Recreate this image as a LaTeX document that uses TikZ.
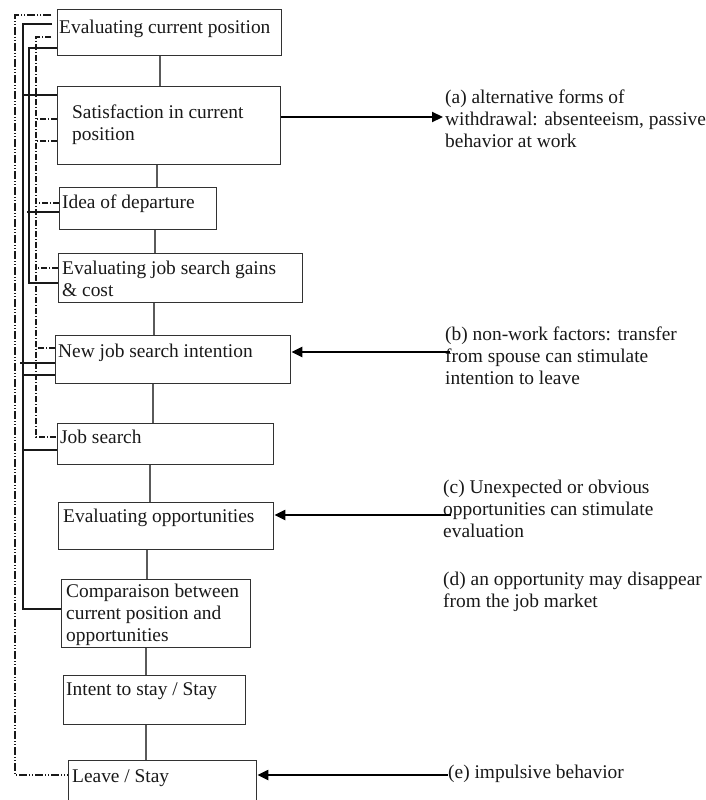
\documentclass[tikz,border=0pt]{standalone}
\usepackage{fontspec}
\setmainfont{Liberation Serif}
\usetikzlibrary{arrows.meta}

\definecolor{boxgray}{RGB}{50,50,50}
\definecolor{linkgray}{RGB}{90,90,90}
\definecolor{inkgray}{RGB}{25,25,25}

\begin{document}
\begin{tikzpicture}[x=1pt,y=-1pt,
  box/.style={draw=boxgray, line width=1.4pt, inner sep=0pt, anchor=north west},
  lbl/.style={inner sep=0pt, anchor=north west, align=left,
    font=\fontsize{19.4}{22}\selectfont, text=inkgray},
  link/.style={draw=linkgray, line width=1.4pt},
  feed/.style={draw=inkgray, line width=1.4pt},
  dashdot/.style={draw=inkgray, line width=1.5pt,
    dash pattern=on 6pt off 2pt on 1pt off 2pt},
  dashdotdot/.style={draw=inkgray, line width=1.6pt,
    dash pattern=on 8pt off 2pt on 1pt off 2pt on 1pt off 2pt},
  push/.style={draw=black, line width=2.2pt, -{Triangle[length=11pt,width=10pt]}}
]
\useasboundingbox (0,0) rectangle (706,800);
\clip (0,0) rectangle (706,800);
\fill[white] (0,0) rectangle (706,800);

% process steps
\node[box, minimum width=224pt, minimum height=46pt] (b1)  at (57,9)   {};
\node[box, minimum width=223pt, minimum height=78pt] (b2)  at (57,86)  {};
\node[box, minimum width=157pt, minimum height=42pt] (b3)  at (59,187) {};
\node[box, minimum width=244pt, minimum height=49pt] (b4)  at (58,253) {};
\node[box, minimum width=235pt, minimum height=48pt] (b5)  at (55,335) {};
\node[box, minimum width=216pt, minimum height=41pt] (b6)  at (57,423) {};
\node[box, minimum width=215pt, minimum height=47pt] (b7)  at (58,502) {};
\node[box, minimum width=189pt, minimum height=68pt] (b8)  at (61,579) {};
\node[box, minimum width=182pt, minimum height=49pt] (b9)  at (63,675) {};
\node[box, minimum width=188pt, minimum height=60pt] (b10) at (68,760) {};

% step texts
\node[lbl] (t1)  at (59,18)  {\strut Evaluating current position};
\node[lbl] (t2)  at (72,103) {\strut Satisfaction in current\\position};
\node[lbl] (t3)  at (62,193) {\strut Idea of departure};
\node[lbl] (t4)  at (62,259) {\strut Evaluating job search gains\\\& cost};
\node[lbl] (t5)  at (58,342) {\strut New job search intention};
\node[lbl] (t6)  at (60,428) {\strut Job search};
\node[lbl] (t7)  at (63,507) {\strut Evaluating opportunities};
\node[lbl] (t8)  at (66,582) {\strut Comparaison between\\current position and\\opportunities};
\node[lbl] (t9)  at (66,680) {\strut Intent to stay / Stay};
\node[lbl] (t10) at (72,767) {\strut Leave / Stay};

% side notes
\node[lbl] (ta) at (445,88)  {\strut (a) alternative forms of\\withdrawal: absenteeism, passive\\behavior at work};
\node[lbl] (tb) at (445,325) {\strut (b) non-work factors: transfer\\from spouse can stimulate\\intention to leave};
\node[lbl] (tc) at (443,478) {\strut (c) Unexpected or obvious\\opportunities can stimulate\\evaluation};
\node[lbl] (td) at (443,570) {\strut (d) an opportunity may disappear\\from the job market};
\node[lbl] (te) at (448,763) {\strut (e) impulsive behavior};

% main chain
\draw[link] (b1.south -| 160,0) -- (b2.north -| 160,0);
\draw[link] (b2.south -| 157,0) -- (b3.north -| 157,0);
\draw[link] (b3.south -| 155,0) -- (b4.north -| 155,0);
\draw[link] (b4.south -| 154,0) -- (b5.north -| 154,0);
\draw[link] (b5.south -| 153,0) -- (b6.north -| 153,0);
\draw[link] (b6.south -| 150,0) -- (b7.north -| 150,0);
\draw[link] (b7.south -| 147,0) -- (b8.north -| 147,0);
\draw[link] (b8.south -| 146,0) -- (b9.north -| 146,0);
\draw[link] (b9.south -| 146,0) -- (b10.north -| 146,0);

% feedback columns on the left
\coordinate (colO) at (15,0);
\coordinate (colA) at (23,0);
\coordinate (colB) at (29,0);
\coordinate (colC) at (36,0);

\draw[dashdotdot, shorten <=6pt] (b1.west |- 0,15) -- (colO |- 0,15)
  -- (colO |- 0,775) -- (b10.west |- 0,775);

\draw[feed, shorten <=5pt] (b1.west |- 0,24) -- (colA |- 0,24)
  -- (colA |- 0,609) -- (b8.west |- 0,609);
\draw[feed] (colA |- 0,95)  -- (b2.west |- 0,95);
\draw[feed, shorten <=-3pt] (colA |- 0,363) -- (b5.west |- 0,363);
\draw[feed] (colA |- 0,375) -- (b5.west |- 0,375);
\draw[feed] (colA |- 0,450) -- (b6.west |- 0,450);

\draw[feed] (b1.west |- 0,48) -- (colB |- 0,48)
  -- (colB |- 0,283) -- (b4.west |- 0,283);
\draw[feed, shorten <=-2pt] (colB |- 0,212) -- (b3.west |- 0,212);

\draw[dashdot, shorten <=6pt] (b1.west |- 0,37) -- (colC |- 0,37)
  -- (colC |- 0,437) -- (b6.west |- 0,437);
\draw[dashdot] (b2.west |- 0,119) -- (colC |- 0,119);
\draw[dashdot] (b2.west |- 0,141) -- (colC |- 0,141);
\draw[dashdot] (b3.west |- 0,203) -- (colC |- 0,203);
\draw[dashdot] (b4.west |- 0,268) -- (colC |- 0,268);
\draw[dashdot] (b5.west |- 0,348) -- (colC |- 0,348);

% influences from the notes
\draw[push, shorten >=2pt] (b2.east |- 0,117) -- (ta.west |- 0,117);
\draw[push, shorten <=-5pt] (tb.west |- 0,352) -- (b5.east |- 0,352);
\draw[push, shorten <=-8pt] (tc.west |- 0,515) -- (b7.east |- 0,515);
\draw[push] (te.west |- 0,775) -- (b10.east |- 0,775);
\end{tikzpicture}
\end{document}
